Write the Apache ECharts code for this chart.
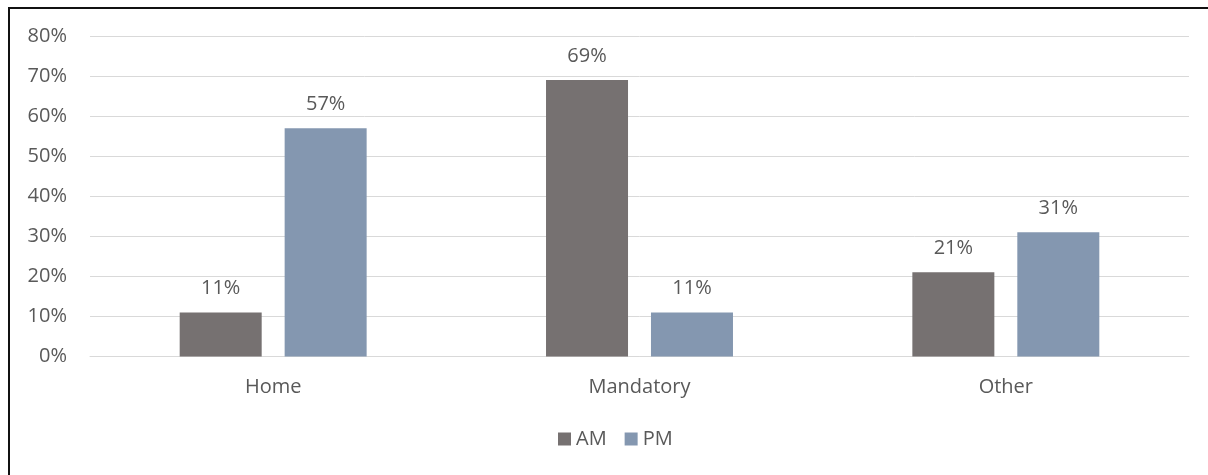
<!DOCTYPE html>
<html>
<head>
<meta charset="utf-8">
<script src="https://cdn.jsdelivr.net/npm/echarts@6/dist/echarts.min.js"></script>
<style>
  html, body { margin: 0; padding: 0; background: #fff; overflow: hidden; }
  #frame {
    position: absolute; left: 8px; top: 7px; width: 1210px; height: 480px;
    border-left: 2px solid #111; border-top: 2px solid #111; box-sizing: border-box;
  }
  #chart { position: absolute; left: 0; top: 0; width: 1208px; height: 475px; }
</style>
</head>
<body>
<div id="frame"></div>
<div id="chart"></div>
<script>
// Share of trips by purpose, AM vs PM peak
const categories = ['Home', 'Mandatory', 'Other'];
const amValues = [11, 69, 21];
const pmValues = [57, 11, 31];
const yTicks = [0, 10, 20, 30, 40, 50, 60, 70, 80];

const textColor = '#595959';
const fontFamily = '"Open Sans", Lato, sans-serif';
const fontSize = 20;

const chart = echarts.init(document.getElementById('chart'), null, { renderer: 'canvas' });

const labelCfg = {
  show: true,
  position: 'top',
  distance: 14,
  color: textColor,
  fontSize: fontSize,
  fontFamily: fontFamily,
  formatter: p => p.value + '%'
};

chart.setOption({
  animation: false,
  backgroundColor: 'transparent',
  grid: { left: 90, right: 19, top: 36, bottom: 118.5, containLabel: false },
  legend: {
    bottom: 21,
    left: 553,
    itemWidth: 13,
    itemHeight: 13,
    itemGap: 18,
    icon: 'rect',
    textStyle: { color: textColor, fontSize: fontSize, fontFamily: fontFamily },
    data: ['AM', 'PM']
  },
  xAxis: {
    type: 'category',
    data: categories,
    axisLine: { show: true, lineStyle: { color: '#d9d9d9', width: 1 } },
    axisTick: { show: false },
    axisLabel: { color: textColor, fontSize: fontSize, fontFamily: fontFamily, margin: 21 }
  },
  yAxis: {
    type: 'value',
    min: yTicks[0],
    max: yTicks[yTicks.length - 1],
    interval: 10,
    axisLine: { show: false },
    axisTick: { show: false },
    axisLabel: {
      color: textColor, fontSize: fontSize, fontFamily: fontFamily, margin: 23,
      formatter: v => v + '%'
    },
    splitLine: { lineStyle: { color: '#d9d9d9', width: 1 } }
  },
  series: [
    {
      name: 'AM', type: 'bar', data: amValues,
      barWidth: 82, barGap: '28%',
      itemStyle: { color: '#767171' },
      label: labelCfg
    },
    {
      name: 'PM', type: 'bar', data: pmValues,
      barWidth: 82, barGap: '28%',
      itemStyle: { color: '#8497B0' },
      label: labelCfg
    }
  ]
});
</script>
</body>
</html>
